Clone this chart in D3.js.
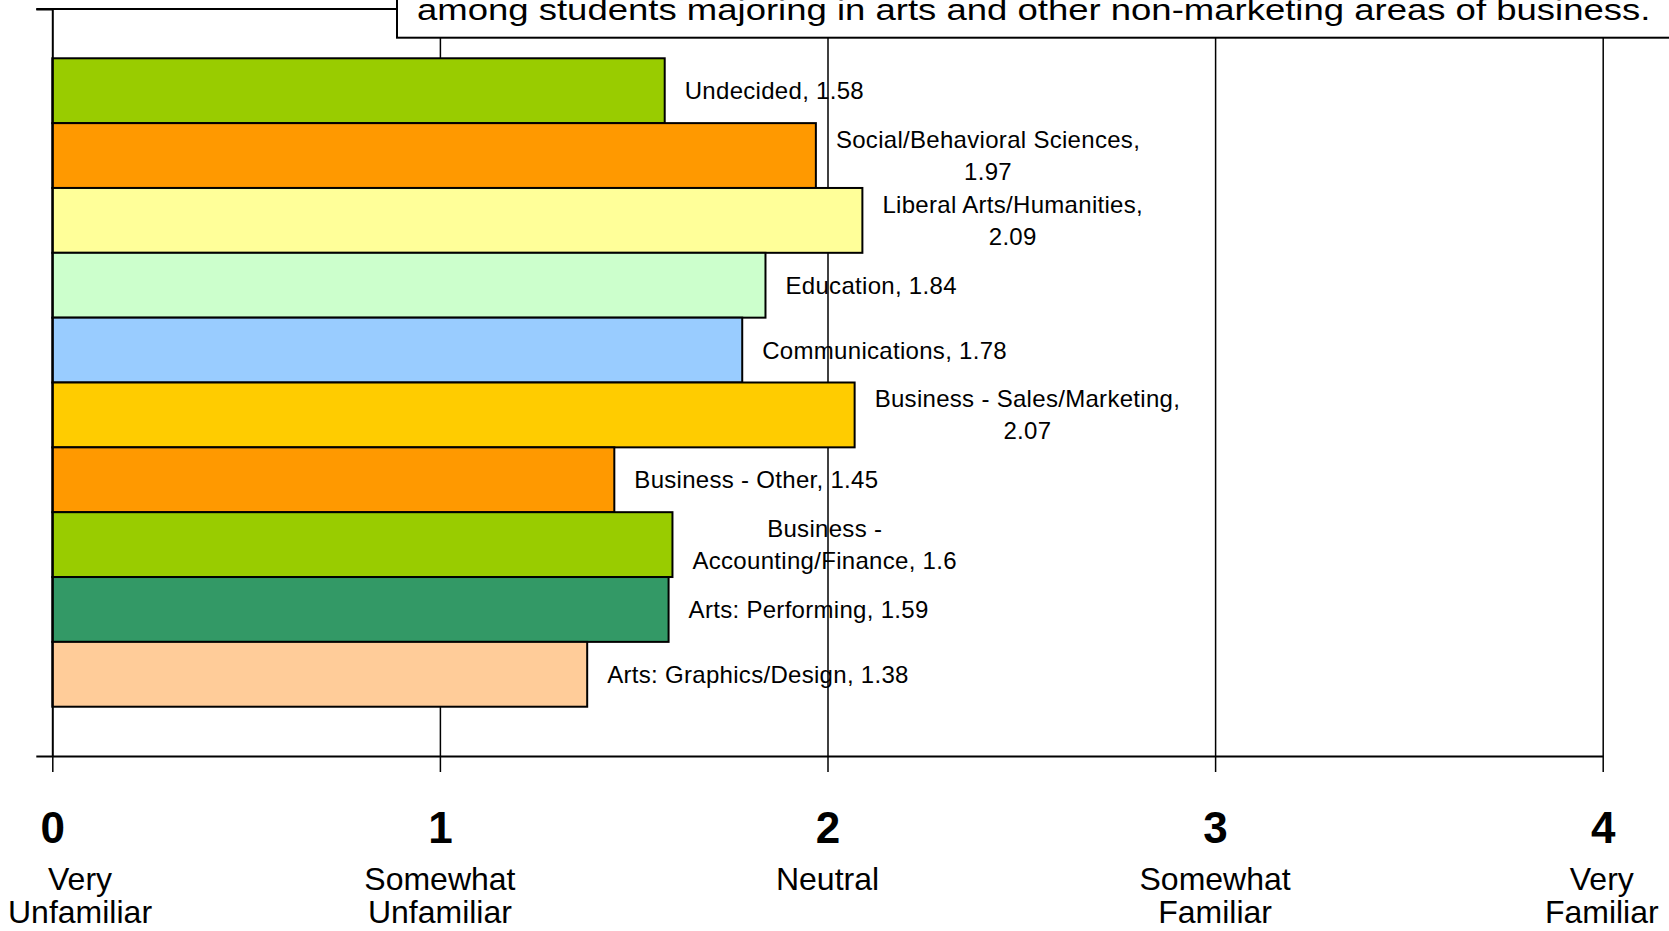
<!DOCTYPE html>
<html>
<head>
<meta charset="utf-8">
<script src="https://cdn.jsdelivr.net/npm/d3@7"></script>
<style>
  body { margin: 0; background: #ffffff; }
  svg { display: block; font-family: "Liberation Sans", Arial, sans-serif; }
</style>
</head>
<body>
<div id="chart"></div>
<script>

// Majors, top to bottom as they appear in the chart
const majors = [
	"Undecided",
	"Social/Behavioral Sciences",
	"Liberal Arts/Humanities",
	"Education",
	"Communications",
	"Business - Sales/Marketing",
	"Business - Other",
	"Business - Accounting/Finance",
	"Arts: Performing",
	"Arts: Graphics/Design"
]

// Mean familiarity score per major
const familiarity = [1.58, 1.97, 2.09, 1.84, 1.78, 2.07, 1.45, 1.6, 1.59, 1.38]

// Data labels as they are wrapped in the picture
const dataLabels = [
	["Undecided, 1.58"],
	["Social/Behavioral Sciences,", "1.97"],
	["Liberal Arts/Humanities,", "2.09"],
	["Education, 1.84"],
	["Communications, 1.78"],
	["Business - Sales/Marketing,", "2.07"],
	["Business - Other, 1.45"],
	["Business -", "Accounting/Finance, 1.6"],
	["Arts: Performing, 1.59"],
	["Arts: Graphics/Design, 1.38"]
]

const barColors = ["#99CC00", "#FF9900", "#FFFF99", "#CCFFCC", "#99CCFF",
                   "#FFCC00", "#FF9900", "#99CC00", "#339966", "#FFCC99"]

// Scale ticks and their wording
const scaleTicks = [0, 1, 2, 3, 4]
const scaleWords = [
	["Very", "Unfamiliar"],
	["Somewhat", "Unfamiliar"],
	["Neutral"],
	["Somewhat", "Familiar"],
	["Very", "Familiar"]
]

const titleText = "among students majoring in arts and other non-marketing areas of business."

function drawChart(element_id) {

	const W = 1669, H = 931
	const plot = {left: 52.3, right: 1602.7, top: 9, bottom: 756}

	const svg = d3.select("#" + element_id)
		.append("svg")
			.attr("width", W)
			.attr("height", H)

	// Scales
	const x = d3.scaleLinear()
		.domain([0, 4])
		.range([plot.left, plot.right])

	const y = d3.scaleBand()
		.domain(majors)
		.range([plot.top, plot.bottom])
		.paddingInner(0)
		.paddingOuter(0.76)

	// Vertical gridlines (full height of the plot)
	svg.append("g")
		.attr("transform", "translate(0," + plot.bottom + ")")
		.call(d3.axisBottom(x).tickValues(scaleTicks.slice(1))
			.tickSize(-(plot.bottom - plot.top)).tickFormat(""))
		.call(g => g.select(".domain").remove())
		.call(g => g.selectAll("line").attr("stroke", "#000").attr("stroke-width", 1.5))

	// Top border of the plot
	svg.append("line")
		.attr("x1", plot.left - 16).attr("x2", plot.right)
		.attr("y1", plot.top).attr("y2", plot.top)
		.attr("stroke", "#000").attr("stroke-width", 2)

	// Bars
	svg.append("g")
		.selectAll("rect")
		.data(majors)
		.enter()
		.append("rect")
		.attr("x", x(0))
		.attr("y", d => y(d))
		.attr("width", (d, i) => x(familiarity[i]) - x(0))
		.attr("height", y.bandwidth())
		.attr("fill", (d, i) => barColors[i])
		.attr("stroke", "#000")
		.attr("stroke-width", 2)

	// Left axis (category frame) with ticks at the top and bottom
	const yFrame = d3.scaleLinear().domain([0, 1]).range([plot.bottom, plot.top])
	svg.append("g")
		.attr("transform", "translate(" + plot.left + ",0)")
		.call(d3.axisLeft(yFrame).tickValues([0, 1]).tickSize(16).tickSizeOuter(0).tickFormat(""))
		.call(g => g.select(".domain").attr("stroke-width", 2))
		.call(g => g.selectAll("line").attr("stroke-width", 2))

	// Bottom axis with bold numbers
	const xAxis = svg.append("g")
		.attr("transform", "translate(0," + plot.bottom + ")")
		.call(d3.axisBottom(x).tickValues(scaleTicks).tickSize(16).tickSizeOuter(0)
			.tickFormat(d3.format("d")))
	xAxis.select(".domain").attr("stroke-width", 2)
	xAxis.selectAll("line").attr("stroke-width", 1.5)
	xAxis.selectAll("text")
		.attr("y", 87)
		.attr("dy", 0)
		.attr("font-size", 44)
		.attr("font-weight", "bold")
		.attr("font-family", "'Liberation Sans', Arial, sans-serif")
		.attr("fill", "#000")

	// Wording under each number
	const words = svg.append("g")
		.selectAll("text")
		.data(scaleTicks)
		.enter()
		.append("text")
		.attr("text-anchor", "middle")
		.attr("font-size", 32)
		.attr("fill", "#000")
		.attr("transform", d => "translate(" + x(d) + "," + (plot.bottom + 134) + ")")
	words.selectAll("tspan")
		.data((d, i) => scaleWords[i])
		.enter()
		.append("tspan")
		.attr("x", 0)
		.attr("y", (d, i) => i * 33)
		.text(d => d)
	// Keep the wording inside the picture
	words.each(function(d) {
		const bb = this.getBBox()
		let shift = 0
		if (x(d) + bb.x < 8) shift = 8 - (x(d) + bb.x)
		if (x(d) + bb.x + bb.width > W - 10) shift = (W - 10) - (x(d) + bb.x + bb.width)
		d3.select(this).attr("transform", "translate(" + (x(d) + shift) + "," + (plot.bottom + 134) + ")")
	})

	// Data labels, to the right of each bar, lines centred on each other
	const lineGap = 32
	const labels = svg.append("g")
		.selectAll("text")
		.data(majors)
		.enter()
		.append("text")
		.attr("text-anchor", "middle")
		.attr("font-size", 24)
		.attr("letter-spacing", 0.3)
		.attr("fill", "#000")
	labels.selectAll("tspan")
		.data((d, i) => dataLabels[i])
		.enter()
		.append("tspan")
		.attr("x", 0)
		.attr("y", (d, i) => i * lineGap)
		.text(d => d)
	labels.each(function(d, i) {
		const bb = this.getBBox()
		const n = dataLabels[i].length
		const cy = y(d) + y.bandwidth() / 2
		const tx = x(familiarity[i]) + 20 - bb.x
		const ty = cy - (n - 1) * lineGap / 2 + 8.5
		d3.select(this).attr("transform", "translate(" + tx + "," + ty + ")")
	})

	// Title box, only its last line is inside the picture
	svg.append("rect")
		.attr("x", 397)
		.attr("y", -30)
		.attr("width", 1400)
		.attr("height", 67.7)
		.attr("fill", "#fff")
		.attr("stroke", "#000")
		.attr("stroke-width", 2)
	svg.append("text")
		.attr("transform", "translate(417,20) scale(1,0.8)")
		.attr("font-size", 36.5)
		.attr("fill", "#000")
		.text(titleText)
}

drawChart("chart")
</script>
</body>
</html>
